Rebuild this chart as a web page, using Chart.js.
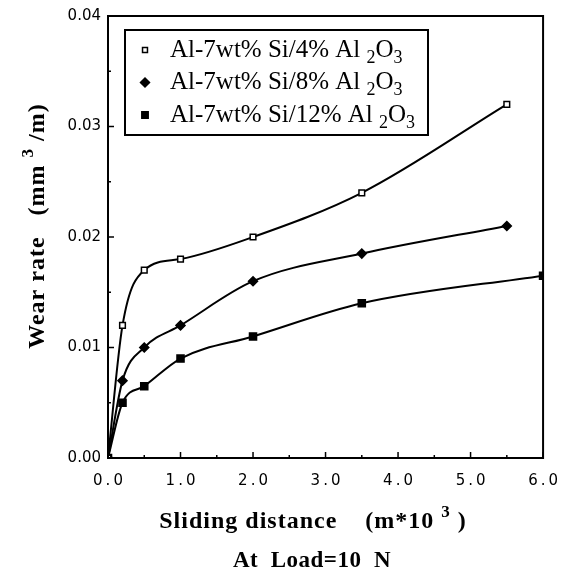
<!DOCTYPE html>
<html>
<head>
<meta charset="utf-8">
<script src="https://cdn.jsdelivr.net/npm/chart.js@4/dist/chart.umd.min.js"></script>
<style>
html,body{margin:0;padding:0;background:#fff;}
#c{display:block;}
</style>
</head>
<body>
<canvas id="c" width="571" height="581"></canvas>
<script>
// ---- data ----
const seriesLabels = ['Al-7wt% Si/4% Al _2O_3', 'Al-7wt% Si/8% Al _2O_3', 'Al-7wt% Si/12% Al _2O_3'];
const x4  = [0, 0.2, 0.5, 1.0, 2.0, 3.5, 5.5];
const y4  = [0, 0.012, 0.017, 0.018, 0.020, 0.024, 0.032];
const x8  = [0, 0.2, 0.5, 1.0, 2.0, 3.5, 5.5];
const y8  = [0, 0.007, 0.010, 0.012, 0.016, 0.0185, 0.021];
const x12 = [0, 0.2, 0.5, 1.0, 2.0, 3.5, 6.0];
const y12 = [0, 0.005, 0.0065, 0.009, 0.011, 0.014, 0.0165];
const xTitle = 'Sliding distance    (m*10 ^3 )';
const xSubTitle = 'At  Load=10  N';
const yTitle = 'Wear rate   (mm ^3 /m)';

const pts = (xs, ys) => xs.map((x, i) => ({x: x, y: ys[i]}));

function richParts(str){
  const parts = [];
  let buf = '';
  for (let i = 0; i < str.length; i++){
    const ch = str[i];
    if ((ch === '^' || ch === '_') && i + 1 < str.length){
      if (buf) parts.push({t: buf, k: 0});
      buf = '';
      parts.push({t: str[i+1], k: ch === '^' ? 1 : -1});
      i++;
    } else buf += ch;
  }
  if (buf) parts.push({t: buf, k: 0});
  return parts;
}
function fontStr(size, family, weight){ return (weight || 'normal') + ' ' + size + 'px ' + family; }
function richWidth(ctx, parts, size, family, weight){
  let w = 0;
  parts.forEach(p => {
    ctx.font = fontStr(p.k ? Math.round(size*0.7) : size, family, weight);
    w += ctx.measureText(p.t).width;
  });
  return w;
}
function drawRich(ctx, str, x, y, size, family, align, weight, spacing){
  ctx.letterSpacing = (spacing || 0) + 'px';
  const parts = richParts(str);
  const w = richWidth(ctx, parts, size, family, weight);
  let cx = align === 'center' ? x - w/2 : x;
  ctx.textBaseline = 'middle';
  ctx.textAlign = 'left';
  parts.forEach(p => {
    const s = p.k ? Math.round(size*0.7) : size;
    ctx.font = fontStr(s, family, weight);
    const dy = p.k === 1 ? -size*0.4 : (p.k === -1 ? size*0.32 : 0);
    ctx.fillText(p.t, cx, y + dy);
    cx += ctx.measureText(p.t).width;
  });
  ctx.letterSpacing = '0px';
}

const markerStyles = [
  {style: 'rect', fill: '#fff', r: 4, lr: 3.5},
  {style: 'rectRot', fill: '#000', r: 4.5, lr: 4.5},
  {style: 'rect', fill: '#000', r: 5, lr: 4.5}
];
const SERIF = '"Liberation Serif", serif';

const decor = {
  id: 'decor',
  afterDraw(chart){
    const ctx = chart.ctx;
    const a = chart.chartArea;
    const xs = chart.scales.x, ys = chart.scales.y;
    ctx.save();
    ctx.strokeStyle = '#000';
    ctx.fillStyle = '#000';
    ctx.lineWidth = 2;
    ctx.strokeRect(a.left, a.top, a.right - a.left, a.bottom - a.top);
    ctx.lineWidth = 1.5;
    for (let v = 0; v <= 6.0001; v += 0.5){
      const px = xs.getPixelForValue(v);
      const len = Math.abs(v - Math.round(v)) < 1e-6 ? 6 : 3;
      ctx.beginPath(); ctx.moveTo(px, a.bottom); ctx.lineTo(px, a.bottom - len); ctx.stroke();
    }
    for (let v = 0; v <= 0.04001; v += 0.005){
      const py = ys.getPixelForValue(v);
      const major = Math.abs(v*100 - Math.round(v*100)) < 1e-6;
      const len = major ? 6 : 3;
      ctx.beginPath(); ctx.moveTo(a.left, py); ctx.lineTo(a.left + len, py); ctx.stroke();
    }
    // x tick labels (wider spacing)
    ctx.fillStyle = '#000';
    ctx.font = '15px "DejaVu Sans", sans-serif';
    ctx.letterSpacing = '3px';
    ctx.textAlign = 'center';
    ctx.textBaseline = 'middle';
    xs.ticks.forEach(t => {
      ctx.fillText(Number(t.value).toFixed(1), xs.getPixelForValue(t.value) + 1.5, a.bottom + 23);
    });
    ctx.letterSpacing = '0px';
    // legend
    const lx = a.left + 17, ly = a.top + 14, lw = 303, lh = 105;
    ctx.lineWidth = 2;
    ctx.strokeRect(lx, ly, lw, lh);
    chart.data.datasets.forEach((ds, i) => {
      const cy = ly + 20 + i * 32.5;
      const m = markerStyles[i];
      ctx.fillStyle = m.fill; ctx.strokeStyle = '#000'; ctx.lineWidth = 1.5;
      Chart.helpers.drawPoint(ctx, {pointStyle: m.style, radius: m.lr, rotation: 0, borderWidth: 1.5}, lx + 20, cy);
      ctx.fillStyle = '#000';
      drawRich(ctx, seriesLabels[i], lx + 45, cy, 25, SERIF, 'left');
    });
    // axis titles
    ctx.fillStyle = '#000';
    drawRich(ctx, xTitle, 313, 522, 24, SERIF, 'center', 'bold', 1);
    drawRich(ctx, xSubTitle, 312, 561, 23, SERIF, 'center', 'bold', 0.5);
    ctx.save();
    ctx.translate(38, 226);
    ctx.rotate(-Math.PI/2);
    drawRich(ctx, yTitle, 0, 0, 24, SERIF, 'center', 'bold', 1);
    ctx.restore();
    ctx.restore();
  }
};

const mk = (i, data) => ({
  label: seriesLabels[i],
  data: data,
  borderColor: '#000',
  borderWidth: 2,
  backgroundColor: markerStyles[i].fill,
  pointStyle: markerStyles[i].style,
  pointRadius: markerStyles[i].r,
  pointBorderColor: '#000',
  pointBorderWidth: 1.5,
  pointBackgroundColor: markerStyles[i].fill,
  cubicInterpolationMode: 'monotone',
  fill: false
});

new Chart(document.getElementById('c'), {
  type: 'scatter',
  data: {
    datasets: [mk(0, pts(x4, y4)), mk(1, pts(x8, y8)), mk(2, pts(x12, y12))]
  },
  options: {
    responsive: false,
    animation: false,
    showLine: true,
    layout: {padding: {top: 14, right: 24, left: 0, bottom: 0}},
    plugins: {legend: {display: false}, tooltip: {enabled: false}},
    scales: {
      x: {
        type: 'linear', min: 0, max: 6,
        grid: {display: false, drawTicks: false},
        border: {display: true, color: '#000', width: 2},
        ticks: {
          stepSize: 1, color: 'rgba(0,0,0,0)', padding: 16,
          font: {family: '"DejaVu Sans", sans-serif', size: 15},
          callback: v => Number(v).toFixed(1)
        },
        afterFit: s => { s.height = 123; }
      },
      y: {
        type: 'linear', min: 0, max: 0.04,
        grid: {display: false, drawTicks: false},
        border: {display: true, color: '#000', width: 2},
        ticks: {
          stepSize: 0.01, color: '#000', padding: 7,
          font: {family: '"DejaVu Sans", sans-serif', size: 15},
          callback: v => Number(v).toFixed(2)
        },
        afterFit: s => { s.width = 108; }
      }
    }
  },
  plugins: [decor]
});
</script>
</body>
</html>
